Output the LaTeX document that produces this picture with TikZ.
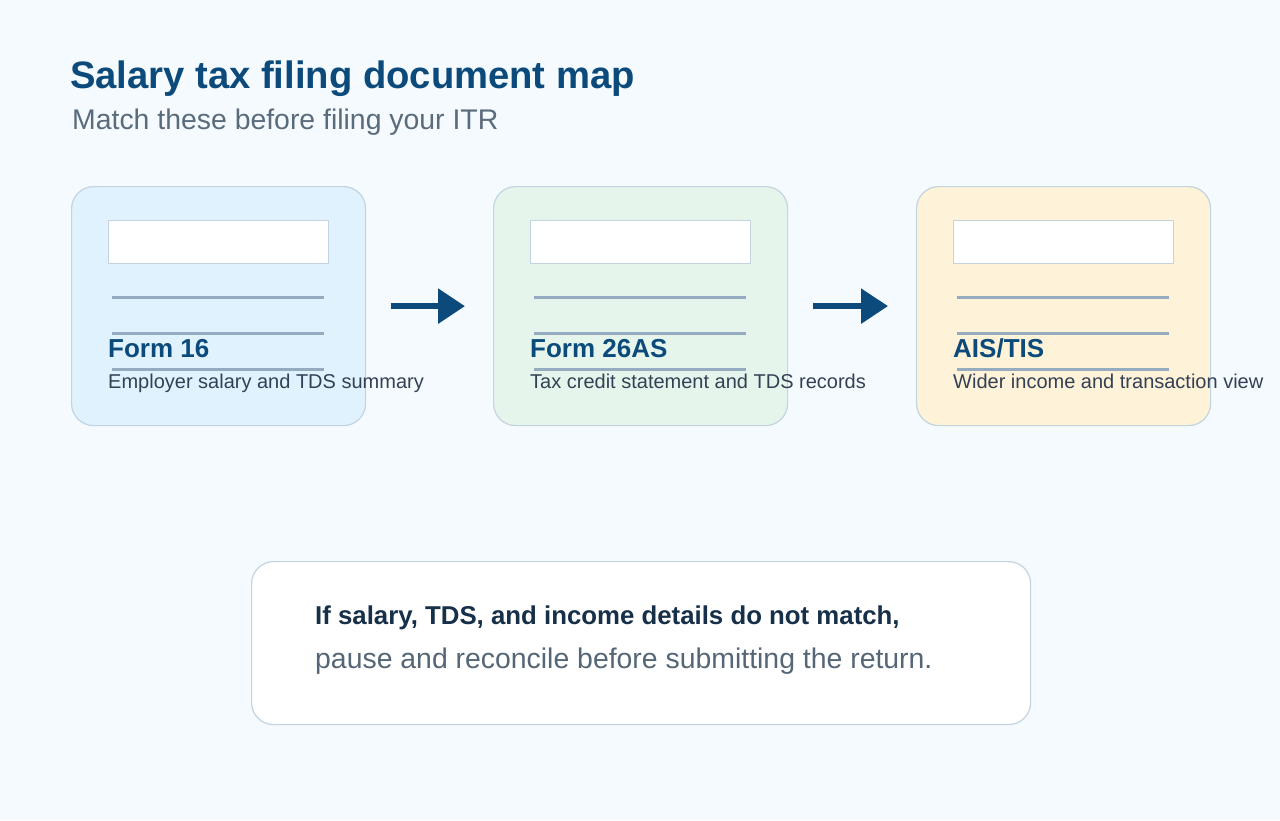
\documentclass[tikz,border=0pt]{standalone}
\usepackage{fontspec}
\setmainfont{Liberation Sans}
\usetikzlibrary{arrows.meta}
\definecolor{bg}{HTML}{F5FAFF}
\definecolor{navy}{HTML}{0B4A7A}
\definecolor{subgray}{HTML}{5A6B7C}
\definecolor{desc}{HTML}{334155}
\definecolor{cardborder}{HTML}{C3D4E0}
\definecolor{rule}{HTML}{94ABC0}
\definecolor{blueFill}{HTML}{E0F2FE}
\definecolor{greenFill}{HTML}{E6F5EC}
\definecolor{yellowFill}{HTML}{FEF3D8}
\definecolor{darktext}{HTML}{17304A}
\definecolor{paletext}{HTML}{556677}
\tikzset{
  card/.style={draw=cardborder, line width=1.2pt, rounded corners=22pt, minimum width=294pt, minimum height=239pt, anchor=north west, inner sep=0pt},
  whitebar/.style={draw=cardborder, line width=0.8pt, fill=white, minimum width=220pt, minimum height=43pt, anchor=north west, inner sep=0pt},
  ruleline/.style={draw=rule, line width=3pt},
  cardtitle/.style={anchor=base west, inner sep=0pt, text=navy, font=\bfseries\fontsize{26}{30}\selectfont},
  carddesc/.style={anchor=base west, inner sep=0pt, text=desc, font=\fontsize{20}{24}\selectfont},
  flow/.style={draw=navy, line width=6pt, -{Triangle[length=27pt,width=34pt]}},
}
\begin{document}
\begin{tikzpicture}[x=1pt,y=-1pt]
\useasboundingbox (0,0) rectangle (1280,820);
\fill[bg] (0,0) rectangle (1280,820);
\node[anchor=base west, inner sep=0pt, text=navy, font=\bfseries\fontsize{38.2}{44}\selectfont] (title) at (70,88) {Salary tax filing document map};
\node[anchor=base west, inner sep=0pt, text=subgray, font=\fontsize{28.4}{32}\selectfont] (subtitle) at (72,129) {Match these before filing your ITR};

\foreach \id/\x/\f/\t/\d in {c1/71/blueFill/Form 16/Employer salary and TDS summary, c2/493/greenFill/Form 26AS/Tax credit statement and TDS records, c3/916/yellowFill/AIS\slash TIS/Wider income and transaction view}{
  \node[card, fill=\f] (\id) at (\x,186) {};
  \node[whitebar] (\id bar) at (\x+37,220) {};
  \draw[ruleline] (\x+41,297) -- (\x+253,297);
  \draw[ruleline] (\x+41,333) -- (\x+253,333);
  \draw[ruleline] (\x+41,369) -- (\x+253,369);
  \node[cardtitle] (\id title) at (\x+37,357) {\t};
  \node[carddesc] (\id desc) at (\x+37,388) {\d};
}
\draw[flow] ([xshift=25pt]c1.east) -- ([xshift=-28pt]c2.west);
\draw[flow] ([xshift=25pt]c2.east) -- ([xshift=-28pt]c3.west);

\node[draw=cardborder, line width=1.2pt, fill=white, rounded corners=22pt, minimum width=779pt, minimum height=163pt, anchor=north west, inner sep=0pt] (note) at (251,561) {};
\node[anchor=base west, inner sep=0pt, text=darktext, font=\bfseries\fontsize{25.8}{30}\selectfont] (note1) at (315,624) {If salary, TDS, and income details do not match,};
\node[anchor=base west, inner sep=0pt, text=paletext, font=\fontsize{28.4}{32}\selectfont] (note2) at (315,668) {pause and reconcile before submitting the return.};
\end{tikzpicture}
\end{document}
